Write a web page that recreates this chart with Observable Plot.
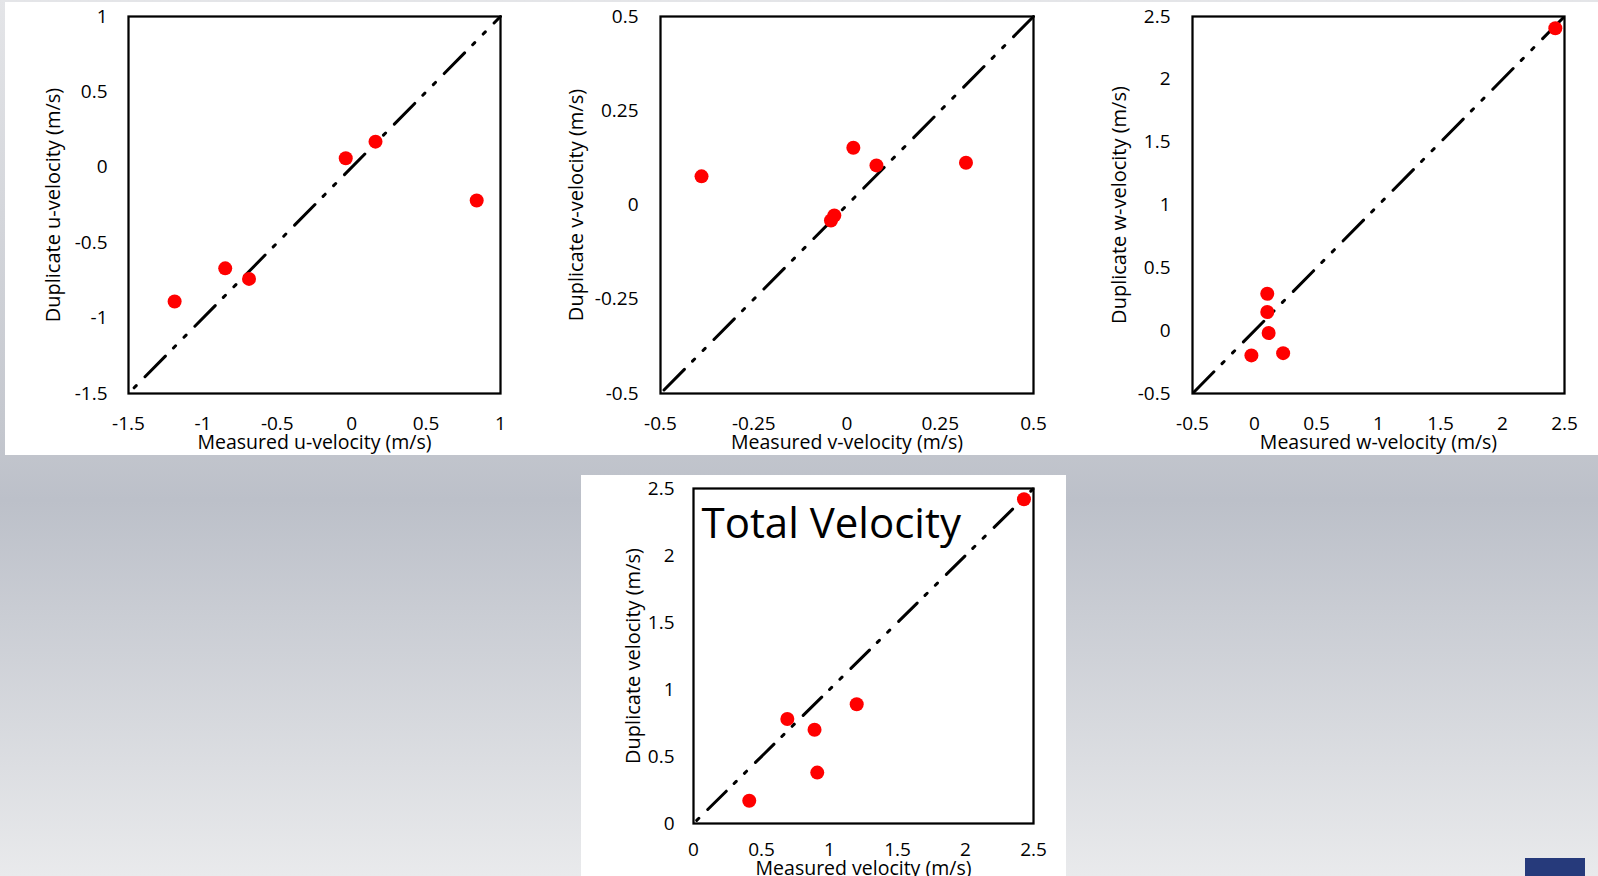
<!DOCTYPE html>
<html>
<head>
<meta charset="utf-8">
<script src="https://cdn.jsdelivr.net/npm/d3@7"></script>
<script src="https://cdn.jsdelivr.net/npm/@observablehq/plot@0.6"></script>
<style>
  html, body { margin: 0; padding: 0; }
  body {
    width: 1598px; height: 876px; position: relative; overflow: hidden;
    background: linear-gradient(to bottom, #e4e5e8 0px, #c4c7ce 430px, #bcc0c9 500px, #e9eaec 876px);
  }
  #sheet-top { position: absolute; left: 5px; top: 2px; width: 1593px; height: 453px; background: #fff; }
  #sheet-bottom { position: absolute; left: 581px; top: 475px; width: 485px; height: 401px; background: #fff; }
  #tab { position: absolute; left: 1525px; top: 858px; width: 60px; height: 18px; background: #263a7b; }
</style>
</head>
<body>
<div id="sheet-top"></div>
<div id="sheet-bottom"></div>
<div id="tab"></div>
<script>
// Duplicate vs. measured velocity components (m/s)
const uMeasured  = [-1.19, -0.85, -0.69, -0.04, 0.16, 0.84];
const uDuplicate = [-0.89, -0.67, -0.74, 0.06, 0.17, -0.22];
const uTicks = [-1.5, -1, -0.5, 0, 0.5, 1];

const vMeasured  = [-0.39, -0.034, -0.043, 0.017, 0.079, 0.319];
const vDuplicate = [0.076, -0.028, -0.041, 0.152, 0.105, 0.112];
const vTicks = [-0.5, -0.25, 0, 0.25, 0.5];

const wMeasured  = [-0.025, 0.103, 0.103, 0.114, 0.231, 2.426];
const wDuplicate = [-0.197, 0.294, 0.148, -0.019, -0.179, 2.407];
const wTicks = [-0.5, 0, 0.5, 1, 1.5, 2, 2.5];

const totalMeasured  = [0.41, 0.69, 0.89, 0.91, 1.20, 2.43];
const totalDuplicate = [0.17, 0.78, 0.70, 0.38, 0.89, 2.42];
const totalTicks = [0, 0.5, 1, 1.5, 2, 2.5];

const FONT = "'Open Sans', 'DejaVu Sans', sans-serif";
const fmt = d => String(d);

// One scatter panel: frame and box are page coordinates [x0, y0, x1, y1]
function panel(spec) {
  const [fx0, fy0, fx1, fy1] = spec.frame;
  const [bx0, by0, bx1, by1] = spec.box;
  const points = spec.measured.map((m, i) => ({m, d: spec.duplicate[i]}));
  const lo = spec.ticks[0], hi = spec.ticks[spec.ticks.length - 1];
  const diag = [{m: lo, d: lo}, {m: hi, d: hi}]; // 1:1 reference line
  const marks = [
    Plot.axisX({ticks: spec.ticks, tickSize: 0, tickPadding: spec.xPad, tickFormat: fmt, label: null}),
    Plot.axisY({ticks: spec.ticks, tickSize: 0, tickPadding: spec.yPad, tickFormat: fmt, label: null}),
    Plot.line(diag, {x: "m", y: "d", stroke: "#000", strokeWidth: 3,
      strokeDasharray: spec.dash, strokeDashoffset: spec.dashOffset}),
    Plot.dot(points, {x: "m", y: "d", r: 7, fill: "#ff0000", stroke: "none"}),
    Plot.frame({stroke: "#000", strokeWidth: 2.25}),
    Plot.text([spec.xTitle], {frameAnchor: "bottom", textAnchor: "middle", lineAnchor: "middle",
      dy: spec.xTitleDy, fontSize: 19.5, fill: "#000"}),
    Plot.text([spec.yTitle], {frameAnchor: "left", textAnchor: "middle", lineAnchor: "middle",
      rotate: -90, dx: spec.yTitleDx, fontSize: 20, fill: "#000"})
  ];
  if (spec.heading) {
    marks.push(Plot.text([spec.heading], {frameAnchor: "top-left", textAnchor: "start", lineAnchor: "bottom",
      dx: 8, dy: 49, fontSize: 42, fill: "#000"}));
  }
  const chart = Plot.plot({
    width: bx1 - bx0, height: by1 - by0,
    marginLeft: fx0 - bx0, marginRight: bx1 - fx1,
    marginTop: fy0 - by0, marginBottom: by1 - fy1,
    x: {domain: [lo, hi]},
    y: {domain: [lo, hi]},
    style: {fontFamily: FONT, fontSize: "19px", color: "#000", background: "transparent", overflow: "visible"},
    marks
  });
  chart.style.position = "absolute";
  chart.style.left = bx0 + "px";
  chart.style.top = by0 + "px";
  document.body.appendChild(chart);
}

const dashTop = [29, 11.5, 3, 12, 3, 12.5];

panel({
  measured: uMeasured, duplicate: uDuplicate, ticks: uTicks,
  frame: [128, 16, 500, 393], box: [5, 2, 545, 455],
  xPad: 23, yPad: 21, xTitleDy: 49, yTitleDx: -75,
  dash: dashTop, dashOffset: 47.5,
  xTitle: "Measured u-velocity (m/s)", yTitle: "Duplicate u-velocity (m/s)"
});

panel({
  measured: vMeasured, duplicate: vDuplicate, ticks: vTicks,
  frame: [660, 16, 1033, 393], box: [545, 2, 1075, 455],
  xPad: 23, yPad: 22, xTitleDy: 49, yTitleDx: -84,
  dash: dashTop, dashOffset: 66,
  xTitle: "Measured v-velocity (m/s)", yTitle: "Duplicate v-velocity (m/s)"
});

panel({
  measured: wMeasured, duplicate: wDuplicate, ticks: wTicks,
  frame: [1192, 16, 1564, 393], box: [1075, 2, 1598, 455],
  xPad: 23, yPad: 22, xTitleDy: 49, yTitleDx: -73,
  dash: dashTop, dashOffset: 69.5,
  xTitle: "Measured w-velocity (m/s)", yTitle: "Duplicate w-velocity (m/s)"
});

panel({
  measured: totalMeasured, duplicate: totalDuplicate, ticks: totalTicks,
  frame: [693, 488, 1033, 823], box: [581, 475, 1066, 876],
  xPad: 19, yPad: 19, xTitleDy: 45, yTitleDx: -60,
  dash: [26, 11, 3, 11.5, 3, 12.5], dashOffset: 47,
  heading: "Total Velocity",
  xTitle: "Measured velocity (m/s)", yTitle: "Duplicate velocity (m/s)"
});
</script>
</body>
</html>
